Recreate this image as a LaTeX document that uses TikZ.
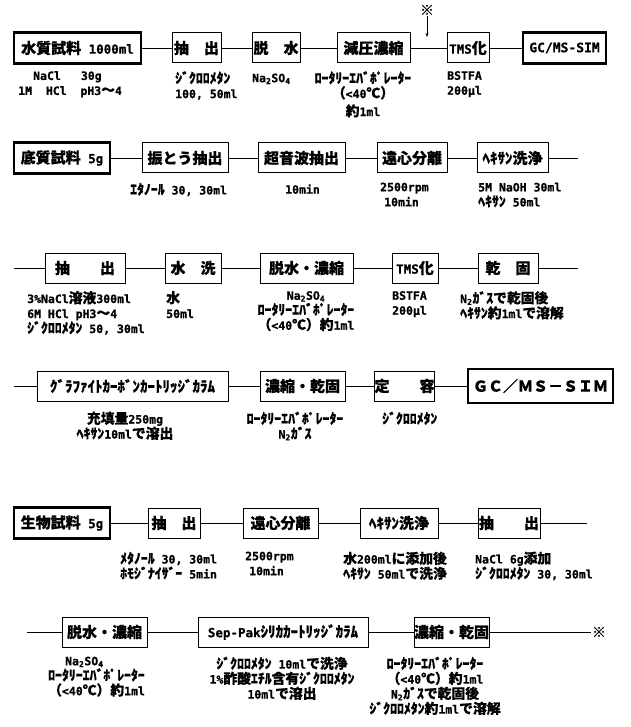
\documentclass[tikz,border=0pt]{standalone}
\usepackage{fontspec}
\setmainfont{DejaVu Sans Mono}[BoldFeatures={FakeBold=0.8}]
\newfontfamily\jpfont{Noto Sans CJK JP}[Scale=1.2, BoldFeatures={FakeBold=0.3}]
\usepackage{tikz}
\usetikzlibrary{arrows.meta}

% kana and kanji are set in the CJK face, everything else in the mono face
\XeTeXinterchartokenstate=1
\newXeTeXintercharclass\jpclass
\newcount\jpc
\def\jprange#1#2{\jpc=#1 \loop\XeTeXcharclass\jpc=\jpclass\ifnum\jpc<#2 \advance\jpc by 1 \repeat}
\jprange{"3000}{"30FF}
\jprange{"4E00}{"9FFF}
\jprange{"FF00}{"FFEF}
\XeTeXcharclass"2103=\jpclass
\XeTeXcharclass"203B=\jpclass
\XeTeXinterchartoks 0 \jpclass={\jpfont}
\XeTeXinterchartoks 4095 \jpclass={\jpfont}
\XeTeXinterchartoks \jpclass 0={\rmfamily}
\XeTeXinterchartoks \jpclass 4095={\rmfamily}

\begin{document}
\begin{tikzpicture}[x=1pt, y=-1pt,
	stepbox/.style={draw, line width=1pt, minimum height=30pt, inner sep=0pt, font=\fontsize{12.5}{12.5}\selectfont\bfseries},
	samplebox/.style={stepbox, line width=2.6pt, minimum height=31pt},
	note/.style={inner sep=0pt, anchor=north west, align=left, font=\fontsize{11.5}{15}\selectfont\bfseries, execute at begin node={\rule{0pt}{11pt}}},
	link/.style={line width=0.8pt},
	star/.style={inner sep=1pt, font=\fontsize{11.5}{11.5}\selectfont\bfseries}]
	\useasboundingbox (0,0) rectangle (630,727);

	\node[samplebox, minimum width=127pt] (water) at (77.5,48) {水質試料 1000ml};
	\node[stepbox, minimum width=49pt] (ext1) at (196.5,48) {抽　出};
	\node[stepbox, minimum width=48pt] (dry1) at (276,48) {脱　水};
	\node[stepbox, minimum width=73pt] (conc1) at (373.5,48) {減圧濃縮};
	\node[stepbox, minimum width=42pt] (tms1) at (468,48) {TMS化};
	\node[samplebox, minimum width=83pt, font=\fontsize{13}{13}\selectfont\bfseries] (gcms1) at (564.5,48) {GC/MS-SIM};
	\node[star] (mark1) at (427,10) {※};
	\coordinate (markend) at (427,37);
	\draw[link] (water) -- (ext1) -- (dry1) -- (conc1) -- (tms1) -- (gcms1);
	\draw[-{Stealth[length=4pt]}] (mark1) -- (markend);
	\node[note] (n1a) at (18,71) {\hspace*{15pt}NaCl\hspace{20pt}30g\\1M　HCl　pH3～4};
	\node[note] (n1b) at (175,71) {ｼﾞｸﾛﾛﾒﾀﾝ\\100, 50ml};
	\node[note] (n1c) at (252,71) {Na\textsubscript{2}SO\textsubscript{4}};
	\node[note, anchor=north, align=center] (n1d) at (363,71) {ﾛｰﾀﾘｰｴﾊﾞﾎﾟﾚｰﾀｰ\\（<40℃）\\[3pt]約1ml};
	\node[note] (n1e) at (447,71) {BSTFA\\200μl};

	\node[samplebox, minimum width=96pt] (sed) at (62,158) {底質試料 5g};
	\node[stepbox, minimum width=86pt] (shake2) at (185,158) {振とう抽出};
	\node[stepbox, minimum width=87pt] (sonic2) at (301.5,158) {超音波抽出};
	\node[stepbox, minimum width=70pt] (cent2) at (412,158) {遠心分離};
	\node[stepbox, minimum width=71pt] (hex2) at (512.5,158) {ﾍｷｻﾝ洗浄};
	\coordinate (end2) at (578,158);
	\draw[link] (sed) -- (shake2) -- (sonic2) -- (cent2) -- (hex2) -- (end2);
	\node[note] (n2a) at (130,182.5) {ｴﾀﾉｰﾙ 30, 30ml};
	\node[note] (n2b) at (285,182.5) {10min};
	\node[note] (n2c) at (380,182.5) {2500rpm\\\hspace*{4pt}10min};
	\node[note] (n2d) at (478,182.5) {5M NaOH 30ml\\ﾍｷｻﾝ 50ml};

	\coordinate (start3) at (14,268);
	\node[stepbox, minimum width=80pt] (ext3) at (85,268) {抽　　出};
	\node[stepbox, minimum width=56pt] (wash3) at (193,268) {水　洗};
	\node[stepbox, minimum width=93pt] (dry3) at (306.5,268) {脱水・濃縮};
	\node[stepbox, minimum width=46pt] (tms3) at (415,268) {TMS化};
	\node[stepbox, minimum width=60pt] (solid3) at (508,268) {乾　固};
	\coordinate (end3) at (578,268);
	\draw[link] (start3) -- (ext3) -- (wash3) -- (dry3) -- (tms3) -- (solid3) -- (end3);
	\node[note] (n3a) at (27,291) {3\%NaCl溶液300ml\\6M HCl pH3～4\\ｼﾞｸﾛﾛﾒﾀﾝ 50, 30ml};
	\node[note] (n3b) at (166,291) {水\\50ml};
	\node[note, anchor=north, align=center] (n3c) at (306,291) {Na\textsubscript{2}SO\textsubscript{4}\\ﾛｰﾀﾘｰｴﾊﾞﾎﾟﾚｰﾀｰ\\（<40℃）約1ml};
	\node[note] (n3d) at (392,291) {BSTFA\\200μl};
	\node[note] (n3e) at (460,291) {N\textsubscript{2}ｶﾞｽで乾固後\\ﾍｷｻﾝ約1mlで溶解};

	\coordinate (start4) at (14,386);
	\node[stepbox, minimum width=191pt] (gcb4) at (132.5,386) {ｸﾞﾗﾌｧｲﾄｶｰﾎﾞﾝｶｰﾄﾘｯｼﾞｶﾗﾑ};
	\node[stepbox, minimum width=85pt] (conc4) at (302.5,386) {濃縮・乾固};
	\node[stepbox, minimum width=55pt] (vol4) at (404.5,386) {定　　容};
	\node[samplebox, minimum width=145pt, minimum height=34pt] (gcms4) at (540.5,386) {ＧＣ／ＭＳ－ＳＩＭ};
	\draw[link] (start4) -- (gcb4) -- (conc4) -- (vol4) -- (gcms4);
	\node[note, anchor=north, align=center] (n4a) at (125,411.5) {充填量250mg\\ﾍｷｻﾝ10mlで溶出};
	\node[note, anchor=north, align=center] (n4b) at (295,411.5) {ﾛｰﾀﾘｰｴﾊﾞﾎﾟﾚｰﾀｰ\\N\textsubscript{2}ｶﾞｽ};
	\node[note] (n4c) at (382,411.5) {ｼﾞｸﾛﾛﾒﾀﾝ};

	\node[samplebox, minimum width=96pt] (bio) at (62,523) {生物試料 5g};
	\node[stepbox, minimum width=52pt] (ext5) at (174,523) {抽　出};
	\node[stepbox, minimum width=75pt] (cent5) at (280.5,523) {遠心分離};
	\node[stepbox, minimum width=78pt] (hex5) at (399,523) {ﾍｷｻﾝ洗浄};
	\node[stepbox, minimum width=62pt] (ext5b) at (509,523) {抽　　出};
	\coordinate (end5) at (587,523);
	\draw[link] (bio) -- (ext5) -- (cent5) -- (hex5) -- (ext5b) -- (end5);
	\node[note] (n5a) at (120,551.5) {ﾒﾀﾉｰﾙ 30, 30ml\\ﾎﾓｼﾞﾅｲｻﾞｰ 5min};
	\node[note] (n5b) at (245,551.5) {2500rpm\\\hspace*{4pt}10min};
	\node[note] (n5c) at (343,551.5) {水200mlに添加後\\ﾍｷｻﾝ 50mlで洗浄};
	\node[note] (n5d) at (475,551.5) {NaCl 6g添加\\ｼﾞｸﾛﾛﾒﾀﾝ 30, 30ml};

	\coordinate (start6) at (27,632);
	\node[stepbox, minimum width=85pt] (dry6) at (104.5,632) {脱水・濃縮};
	\node[stepbox, minimum width=170pt] (sep6) at (283,632) {Sep-Pakｼﾘｶｶｰﾄﾘｯｼﾞｶﾗﾑ};
	\node[stepbox, minimum width=73pt] (conc6) at (451.5,632) {濃縮・乾固};
	\node[star] (mark6) at (599,632) {※};
	\draw[link] (start6) -- (dry6) -- (sep6) -- (conc6) -- (mark6);
	\node[note] (n6a) at (48,656.5) {\hspace*{17pt}Na\textsubscript{2}SO\textsubscript{4}\\ﾛｰﾀﾘｰｴﾊﾞﾎﾟﾚｰﾀｰ\\（<40℃）約1ml};
	\node[note, anchor=north, align=center] (n6b) at (282,656.5) {ｼﾞｸﾛﾛﾒﾀﾝ 10mlで洗浄\\1\%酢酸ｴﾁﾙ含有ｼﾞｸﾛﾛﾒﾀﾝ\\10mlで溶出};
	\node[note, anchor=north, align=center] (n6c) at (435,656.5) {ﾛｰﾀﾘｰｴﾊﾞﾎﾟﾚｰﾀｰ\\（<40℃）約1ml\\N\textsubscript{2}ｶﾞｽで乾固後\\ｼﾞｸﾛﾛﾒﾀﾝ約1mlで溶解};
\end{tikzpicture}
\end{document}
